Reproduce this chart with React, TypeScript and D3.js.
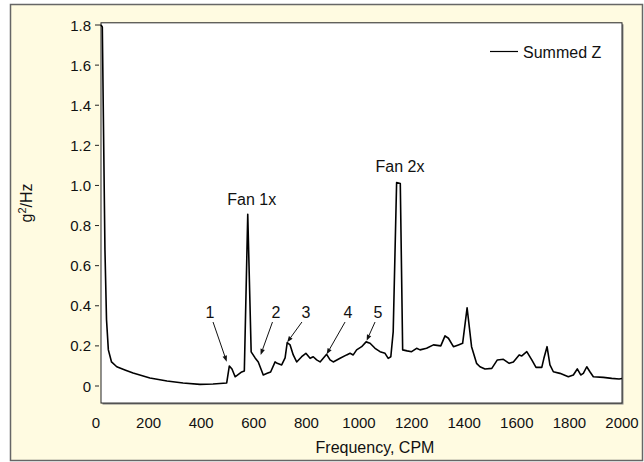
import React from "react";
import * as d3 from "d3";

const freq = [19, 24, 34, 40, 47, 59, 79, 110, 141, 205, 270, 331, 395, 445, 497, 507, 517, 529, 554, 564, 577, 590, 605, 617, 636, 651, 664, 681, 689, 706, 719, 727, 738, 750, 763, 782, 798, 814, 826, 839, 852, 864, 877, 890, 902, 928, 953, 966, 978, 991, 1010, 1027, 1042, 1061, 1080, 1099, 1111, 1121, 1130, 1143, 1157, 1166, 1183, 1200, 1219, 1232, 1257, 1283, 1311, 1327, 1340, 1359, 1378, 1394, 1411, 1428, 1447, 1460, 1479, 1505, 1526, 1549, 1571, 1587, 1609, 1619, 1638, 1657, 1673, 1695, 1703, 1715, 1726, 1739, 1764, 1796, 1815, 1830, 1843, 1853, 1866, 1878, 1891, 1929, 1961, 1989, 2000];
const summedZ = [1.8, 1.79, 0.68, 0.33, 0.18, 0.12, 0.096, 0.08, 0.065, 0.04, 0.025, 0.015, 0.008, 0.01, 0.015, 0.1, 0.085, 0.046, 0.07, 0.075, 0.856, 0.17, 0.14, 0.12, 0.055, 0.063, 0.07, 0.12, 0.113, 0.105, 0.14, 0.216, 0.205, 0.155, 0.12, 0.146, 0.163, 0.138, 0.146, 0.13, 0.12, 0.138, 0.158, 0.13, 0.12, 0.138, 0.155, 0.163, 0.155, 0.18, 0.196, 0.22, 0.213, 0.188, 0.171, 0.163, 0.138, 0.146, 0.27, 1.015, 1.01, 0.18, 0.175, 0.171, 0.188, 0.18, 0.188, 0.205, 0.2, 0.25, 0.238, 0.196, 0.205, 0.213, 0.39, 0.196, 0.113, 0.096, 0.085, 0.088, 0.13, 0.133, 0.113, 0.12, 0.155, 0.15, 0.171, 0.13, 0.093, 0.093, 0.138, 0.196, 0.105, 0.071, 0.063, 0.046, 0.055, 0.085, 0.055, 0.063, 0.096, 0.071, 0.046, 0.043, 0.038, 0.035, 0.037];

const xTicks = [0, 200, 400, 600, 800, 1000, 1200, 1400, 1600, 1800, 2000];
const yTicks = [0, 0.2, 0.4, 0.6, 0.8, 1.0, 1.2, 1.4, 1.6, 1.8];

const peakLabels = ["Fan 1x", "Fan 2x"];
const peakLabelX = [592, 1156];
const peakLabelY = [0.928, 1.092];

const markLabels = ["1", "2", "3", "4", "5"];
const markLabelX = [433, 684, 798, 958, 1072];
const markLabelY = [0.364, 0.364, 0.364, 0.364, 0.364];
const arrowFromX = [445, 671, 783, 947, 1061];
const arrowFromY = [0.319, 0.319, 0.319, 0.319, 0.319];
const arrowToX = [497, 626, 727, 877, 1029];
const arrowToY = [0.121, 0.155, 0.218, 0.158, 0.226];

const seriesName = "Summed Z";

const W = 644;
const H = 462;
const FONT = "Arial, 'Liberation Sans', Helvetica, sans-serif";
const TICK_FS = 15;
const TEXT_FS = 16;

export default function App() {
  const x = d3.scaleLinear().domain([0, 2000]).range([96, 622]);
  const y = d3.scaleLinear().domain([0, 1.8]).range([386, 25]);
  const plotLeft = x(19);
  const plotRight = x(2000);
  const plotTop = y(1.811);
  const plotBottom = y(-0.085);

  const data = freq.map((f, i) => [f, summedZ[i]] as [number, number]);
  const line = d3
    .line<[number, number]>()
    .x((d) => x(d[0]))
    .y((d) => y(d[1]));

  const arrows = markLabels.map((_, i) => {
    const x1 = x(arrowFromX[i]);
    const y1 = y(arrowFromY[i]);
    const x2 = x(arrowToX[i]);
    const y2 = y(arrowToY[i]);
    const ang = Math.atan2(y2 - y1, x2 - x1);
    const len = 6;
    const wid = 2.3;
    const bx = x2 - len * Math.cos(ang);
    const by = y2 - len * Math.sin(ang);
    const px = -Math.sin(ang) * wid;
    const py = Math.cos(ang) * wid;
    return { x1, y1, bx, by, x2, y2, px, py };
  });

  return (
    <svg
      width={W}
      height={H}
      style={{ position: "absolute", left: 0, top: 0, fontFamily: FONT }}
    >
      <rect x={0} y={0} width={W} height={H} fill="#ffffff" />
      <rect
        x={10.5}
        y={4.5}
        width={632}
        height={456}
        fill="#fffbe1"
        stroke="#666666"
        strokeWidth={1.5}
      />
      {/* plot frame */}
      <rect
        x={plotLeft + 1.5}
        y={plotTop + 1.5}
        width={plotRight - plotLeft}
        height={plotBottom - plotTop}
        fill="#8a8a8a"
      />
      <rect
        x={plotLeft}
        y={plotTop}
        width={plotRight - plotLeft}
        height={plotBottom - plotTop}
        fill="#ffffff"
        stroke="#222222"
        strokeWidth={1}
      />
      {/* y ticks */}
      {yTicks.map((t) => (
        <g key={"y" + t}>
          <line
            x1={95}
            x2={t === 1.8 ? plotLeft : 99}
            y1={y(t)}
            y2={y(t)}
            stroke="#222"
            strokeWidth={1}
          />
          <text
            x={91}
            y={y(t)}
            textAnchor="end"
            dominantBaseline="central"
            fontSize={TICK_FS}
            fill="#111"
          >
            {t === 0 ? "0" : t.toFixed(1)}
          </text>
        </g>
      ))}
      {/* x tick labels */}
      {xTicks.map((t) => (
        <text
          key={"x" + t}
          x={x(t)}
          y={422}
          textAnchor="middle"
          dominantBaseline="central"
          fontSize={TICK_FS}
          fill="#111"
        >
          {t}
        </text>
      ))}
      <text
        x={375}
        y={447}
        textAnchor="middle"
        dominantBaseline="central"
        fontSize={TEXT_FS}
        fill="#111"
      >
        Frequency, CPM
      </text>
      <text
        transform={`translate(32,203) rotate(-90)`}
        textAnchor="middle"
        fontSize={TEXT_FS}
        fill="#111"
      >
        g<tspan fontSize={11} dy={-6}>2</tspan>
        <tspan dy={6}>/Hz</tspan>
      </text>
      {/* data */}
      <path d={line(data) || ""} fill="none" stroke="#000" strokeWidth={1.6} strokeLinejoin="round" />
      {/* legend */}
      <line x1={490} x2={518} y1={51.5} y2={51.5} stroke="#000" strokeWidth={1.2} />
      <text x={523} y={52} dominantBaseline="central" fontSize={TEXT_FS} fill="#111">
        {seriesName}
      </text>
      {/* peak labels */}
      {peakLabels.map((l, i) => (
        <text
          key={l}
          x={x(peakLabelX[i])}
          y={y(peakLabelY[i])}
          textAnchor="middle"
          dominantBaseline="central"
          fontSize={TEXT_FS}
          fill="#111"
        >
          {l}
        </text>
      ))}
      {/* numbered markers */}
      {markLabels.map((l, i) => (
        <text
          key={"m" + l}
          x={x(markLabelX[i])}
          y={y(markLabelY[i])}
          textAnchor="middle"
          dominantBaseline="central"
          fontSize={TEXT_FS}
          fill="#111"
        >
          {l}
        </text>
      ))}
      {arrows.map((a, i) => (
        <g key={"a" + i}>
          <line x1={a.x1} y1={a.y1} x2={a.bx} y2={a.by} stroke="#111" strokeWidth={1} />
          <polygon
            points={`${a.x2},${a.y2} ${a.bx + a.px},${a.by + a.py} ${a.bx - a.px},${a.by - a.py}`}
            fill="#111"
          />
        </g>
      ))}
    </svg>
  );
}
